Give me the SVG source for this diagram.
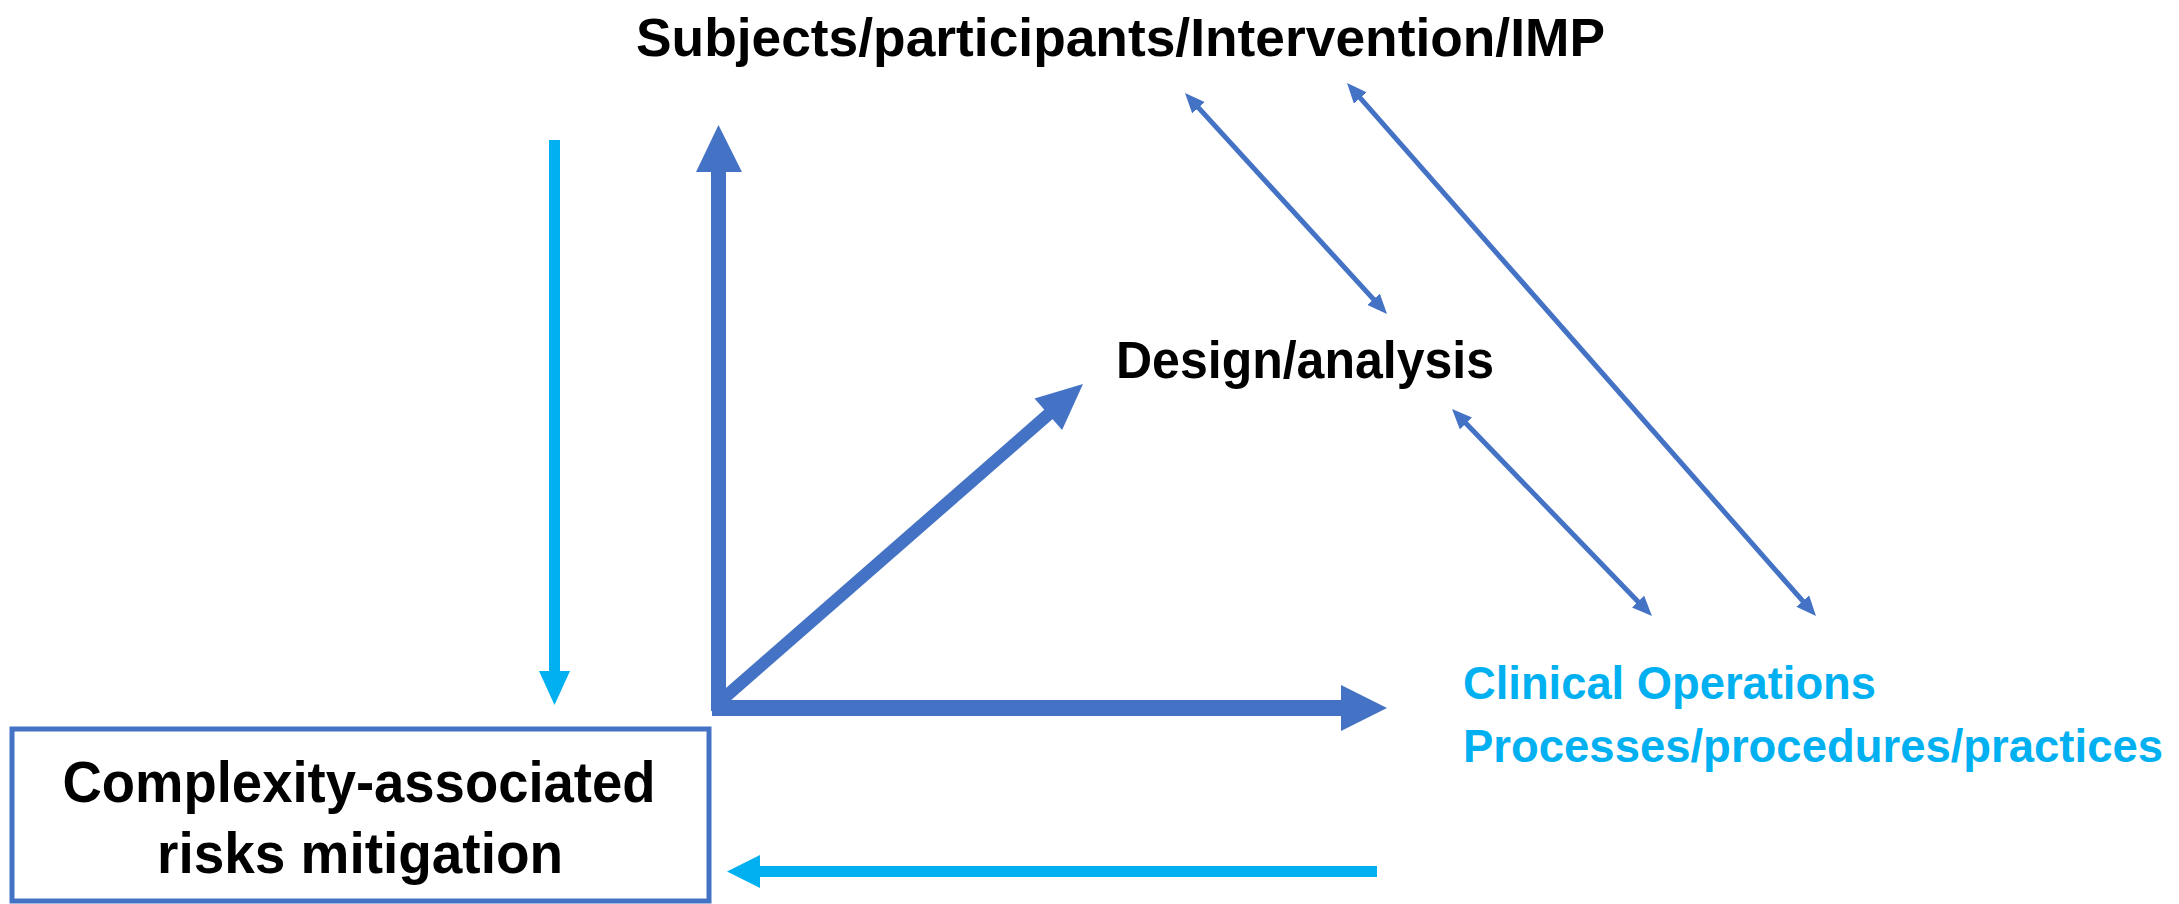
<svg xmlns="http://www.w3.org/2000/svg" width="2179" height="904" viewBox="0 0 2179 904">
  <style>
    .lbl { font-family: "Liberation Sans", Arial, sans-serif; font-weight: bold; }
    .dark { fill: #000000; }
    .cyan { fill: #00B0F0; }
    .thin { stroke: #4472C4; stroke-width: 5; fill: none; marker-start: url(#tip); marker-end: url(#tip); }
    .blue-shaft { stroke: #4472C4; fill: none; }
    .blue-head { fill: #4472C4; }
    .cyan-shaft { stroke: #00B0F0; stroke-width: 11; fill: none; }
    .cyan-head { fill: #00B0F0; }
  </style>
  <defs>
    <marker id="tip" viewBox="0 0 4 3.4" refX="0.5" refY="1.7" markerWidth="4" markerHeight="3.4" markerUnits="strokeWidth" orient="auto-start-reverse">
      <path d="M0,0 L4,1.7 L0,3.4 z" fill="#4472C4"/>
    </marker>
  </defs>

  <rect width="2179" height="904" fill="#ffffff"/>

  <!-- connectors -->
  <g id="connectors">
    <!-- thin two-way links between the three factors -->
    <line class="thin" x1="1196.8" y1="105.9" x2="1375.2" y2="301.1"/>
    <line class="thin" x1="1358.6" y1="96.1" x2="1804.4" y2="602.9"/>
    <line class="thin" x1="1464.2" y1="421.6" x2="1639.8" y2="603.4"/>

    <!-- thick axes from the common origin -->
    <line class="blue-shaft" stroke-width="15" x1="718.5" y1="711" x2="718.5" y2="170"/>
    <polygon class="blue-head" points="696,172 718.5,125 742,172"/>

    <line class="blue-shaft" stroke-width="16" x1="712" y1="708" x2="1343" y2="708"/>
    <polygon class="blue-head" points="1341,685 1387,708 1341,731"/>

    <line class="blue-shaft" stroke-width="12.5" x1="716" y1="705" x2="1050" y2="413"/>
    <polygon class="blue-head" points="1062.1,430 1083,384 1034.5,398.4"/>

    <!-- feedback into and out of risk mitigation -->
    <line class="cyan-shaft" x1="554.5" y1="140" x2="554.5" y2="673"/>
    <polygon class="cyan-head" points="539,671 554.5,705 570,671"/>

    <line class="cyan-shaft" x1="1377" y1="871.5" x2="758" y2="871.5"/>
    <polygon class="cyan-head" points="760,855 727,871.5 760,888"/>
  </g>

  <g id="node-subjects">
    <text class="lbl dark" x="636" y="56" font-size="54" textLength="969" lengthAdjust="spacingAndGlyphs">Subjects/participants/Intervention/IMP</text>
  </g>

  <g id="node-design">
    <text class="lbl dark" x="1116" y="378" font-size="51" textLength="378" lengthAdjust="spacingAndGlyphs">Design/analysis</text>
  </g>

  <g id="node-clinops">
    <text class="lbl cyan" x="1463" y="699" font-size="46" textLength="413" lengthAdjust="spacingAndGlyphs">Clinical Operations</text>
    <text class="lbl cyan" x="1463" y="762" font-size="46" textLength="700" lengthAdjust="spacingAndGlyphs">Processes/procedures/practices</text>
  </g>

  <g id="node-mitigation">
    <rect x="12" y="729" width="697" height="172" fill="#ffffff" stroke="#4472C4" stroke-width="5"/>
    <text class="lbl dark" x="62.5" y="802" font-size="57" textLength="593" lengthAdjust="spacingAndGlyphs">Complexity-associated</text>
    <text class="lbl dark" x="157" y="873" font-size="57" textLength="406" lengthAdjust="spacingAndGlyphs">risks mitigation</text>
  </g>
</svg>
